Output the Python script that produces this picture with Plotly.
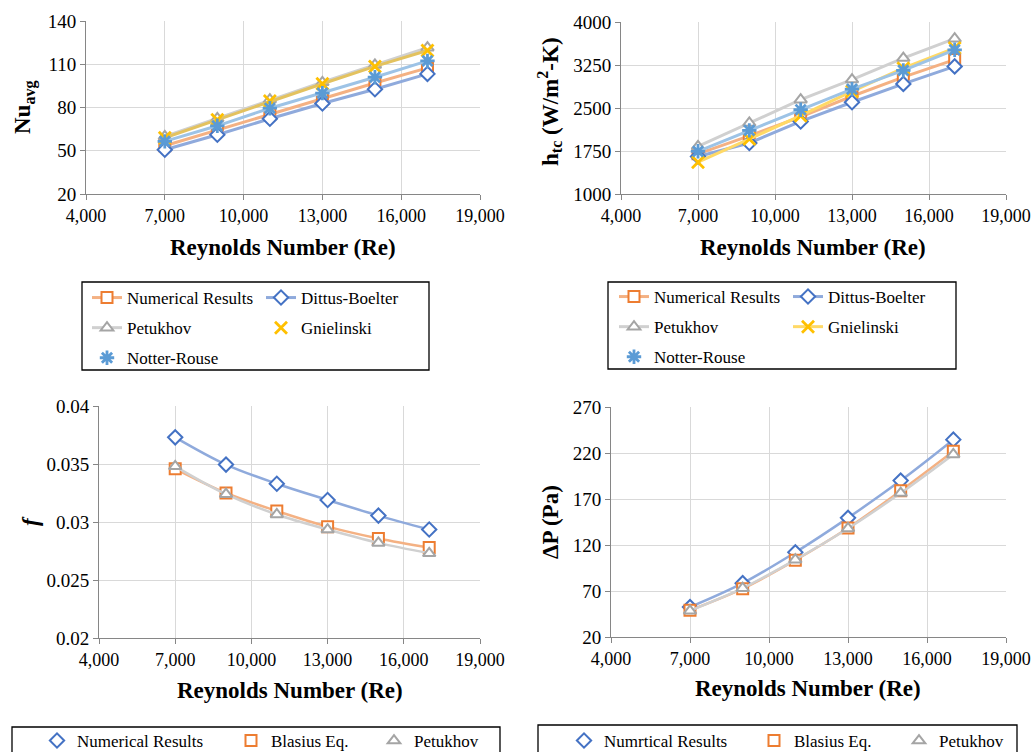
import plotly.graph_objects as go

# Reynolds numbers of the test cases
re = [7000, 9000, 11000, 13000, 15000, 17000]

# Average Nusselt number
nu_numerical = [53.5, 64.5, 75.5, 86.0, 97.0, 107.5]
nu_dittus = [50.7, 61.1, 72.2, 82.8, 92.7, 103.3]
nu_petukhov = [60.0, 72.5, 85.5, 97.5, 109.5, 121.5]
nu_gnielinski = [59.0, 71.5, 84.5, 96.5, 108.5, 119.5]
nu_notter = [56.5, 67.3, 79.5, 90.0, 101.0, 112.3]

# Heat transfer coefficient (W/m2-K)
h_numerical = [1700, 2015, 2345, 2705, 3040, 3345]
h_dittus = [1655, 1890, 2265, 2600, 2920, 3225]
h_petukhov = [1830, 2240, 2645, 2995, 3370, 3710]
h_gnielinski = [1555, 1960, 2365, 2790, 3195, 3545]
h_notter = [1745, 2110, 2470, 2830, 3155, 3515]

# Friction factor
f_numerical = [0.0373, 0.03495, 0.0333, 0.0319, 0.03055, 0.02935]
f_blasius = [0.03458, 0.0325, 0.03095, 0.0296, 0.02858, 0.0278]
f_petukhov = [0.0348, 0.0324, 0.03065, 0.02935, 0.0282, 0.0273]

# Pressure drop (Pa)
dp_numerical = [52.5, 78.5, 112.0, 149.5, 190.0, 234.5]
dp_blasius = [49.0, 72.5, 103.5, 138.5, 179.0, 222.0]
dp_petukhov = [48.5, 73.0, 104.0, 138.0, 176.5, 218.5]

# Axis ticks
x_ticks = [4000, 7000, 10000, 13000, 16000, 19000]
x_labels = ["4,000", "7,000", "10,000", "13,000", "16,000", "19,000"]
nu_ticks = [20, 50, 80, 110, 140]
h_ticks = [1000, 1750, 2500, 3250, 4000]
f_ticks = [0.02, 0.025, 0.03, 0.035, 0.04]
f_labels = ["0.02", "0.025", "0.03", "0.035", "0.04"]
dp_ticks = [20, 70, 120, 170, 220, 270]

W, H = 1033, 752
FONT = "Liberation Serif"

ORANGE, ORANGE_L = "#ED7D31", "#F4B183"
BLUE, BLUE_L = "#4472C4", "#8FAADC"
GRAY, GRAY_L = "#A5A5A5", "#D0D0D0"
YELLOW, YELLOW_L = "#FFC000", "#FFD966"
GOLD_L = "#E3C25F"
SKY, SKY_L = "#5B9BD5", "#9DC3E6"


def px(x):
    return x / W


def py(y):
    return 1 - y / H


fig = go.Figure()


def marker(symbol, color, size=11, lw=2):
    if symbol in ("x-thin", "asterisk"):
        return dict(symbol=symbol, size=size + 1, color=color,
                    line=dict(color=color, width=lw + 0.8))
    return dict(symbol=symbol, size=size, color="white",
                line=dict(color=color, width=lw))


def series(name, y, xa, ya, legend, sym, mcol, lcol, lw=3,
           legend_line=True, shape="linear"):
    if legend_line:
        fig.add_trace(go.Scatter(
            x=re, y=y, name=name, mode="lines+markers", xaxis=xa, yaxis=ya,
            line=dict(color=lcol, width=lw, shape=shape),
            marker=marker(sym, mcol), legend=legend, legendgroup=name + legend))
    else:
        fig.add_trace(go.Scatter(
            x=re, y=y, mode="lines", xaxis=xa, yaxis=ya, showlegend=False,
            line=dict(color=lcol, width=lw, shape=shape), hoverinfo="skip"))
        fig.add_trace(go.Scatter(
            x=re, y=y, name=name, mode="markers", xaxis=xa, yaxis=ya,
            marker=marker(sym, mcol), legend=legend, legendgroup=name + legend))


# Nusselt number panel
series("Numerical Results", nu_numerical, "x", "y", "legend", "square", ORANGE, ORANGE_L)
series("Dittus-Boelter", nu_dittus, "x", "y", "legend2", "diamond", BLUE, BLUE_L)
series("Petukhov", nu_petukhov, "x", "y", "legend", "triangle-up", GRAY, GRAY_L)
series("Gnielinski", nu_gnielinski, "x", "y", "legend2", "x-thin", YELLOW, GOLD_L,
       legend_line=False)
series("Notter-Rouse", nu_notter, "x", "y", "legend", "asterisk", SKY, SKY_L,
       legend_line=False)

# Heat transfer coefficient panel
series("Numerical Results", h_numerical, "x2", "y2", "legend3", "square", ORANGE, ORANGE_L)
series("Dittus-Boelter", h_dittus, "x2", "y2", "legend4", "diamond", BLUE, BLUE_L)
series("Petukhov", h_petukhov, "x2", "y2", "legend3", "triangle-up", GRAY, GRAY_L)
series("Gnielinski", h_gnielinski, "x2", "y2", "legend4", "x-thin", YELLOW, YELLOW_L)
series("Notter-Rouse", h_notter, "x2", "y2", "legend3", "asterisk", SKY, SKY_L,
       legend_line=False)

# Friction factor panel
series("Numerical Results", f_numerical, "x3", "y3", "legend5", "diamond", BLUE, BLUE_L,
       lw=2.5, legend_line=False, shape="spline")
series("Blasius Eq.", f_blasius, "x3", "y3", "legend6", "square", ORANGE, ORANGE_L,
       lw=2.5, legend_line=False, shape="spline")
series("Petukhov", f_petukhov, "x3", "y3", "legend7", "triangle-up", GRAY, GRAY_L,
       lw=2.5, legend_line=False, shape="spline")

# Pressure drop panel
series("Numrtical Results", dp_numerical, "x4", "y4", "legend8", "diamond", BLUE, BLUE_L,
       lw=2.5, legend_line=False, shape="spline")
series("Blasius Eq.", dp_blasius, "x4", "y4", "legend9", "square", ORANGE, ORANGE_L,
       lw=2.5, legend_line=False, shape="spline")
series("Petukhov", dp_petukhov, "x4", "y4", "legend10", "triangle-up", GRAY, GRAY_L,
       lw=2.5, legend_line=False, shape="spline")

axis_common = dict(
    showline=True, linecolor="#868686", linewidth=1,
    ticks="outside", ticklen=5, tickcolor="#868686",
    showgrid=True, gridcolor="#D9D9D9", gridwidth=1, zeroline=False,
    automargin=False,
)


def xaxis(dom, anchor):
    return dict(axis_common, domain=dom, anchor=anchor, range=[4000, 19000],
                tickmode="array", tickvals=x_ticks, ticktext=x_labels,
                tickfont=dict(family=FONT, size=18, color="#000"))


def yaxis(dom, anchor, rng, vals, text=None):
    d = dict(axis_common, domain=dom, anchor=anchor, range=rng,
             tickmode="array", tickvals=vals,
             tickfont=dict(family=FONT, size=19, color="#000"))
    if text is not None:
        d["ticktext"] = text
    return d


layout = dict(
    width=W, height=H,
    margin=dict(l=0, r=0, t=0, b=0, autoexpand=False),
    paper_bgcolor="white", plot_bgcolor="white",
    font=dict(family=FONT, size=17, color="#000"),
    xaxis=xaxis([px(86), px(480)], "y"),
    yaxis=yaxis([py(194), py(21)], "x", [20, 140], nu_ticks),
    xaxis2=xaxis([px(621), px(1006)], "y2"),
    yaxis2=yaxis([py(194), py(22)], "x2", [1000, 4000], h_ticks),
    xaxis3=xaxis([px(99), px(480)], "y3"),
    yaxis3=yaxis([py(638), py(406)], "x3", [0.02, 0.04], f_ticks, f_labels),
    xaxis4=xaxis([px(611), px(1006)], "y4"),
    yaxis4=yaxis([py(637), py(407)], "x4", [20, 270], dp_ticks),
    showlegend=True,
)


def legend_at(x, y):
    return dict(x=px(x), y=py(y), xanchor="left", yanchor="top",
                xref="paper", yref="paper", orientation="v",
                bgcolor="rgba(0,0,0,0)", borderwidth=0, tracegroupgap=5,
                font=dict(family=FONT, size=17, color="#000"))


leg_pos = {
    "legend": (87, 280), "legend2": (261, 280),
    "legend3": (614, 279), "legend4": (788, 279),
    "legend5": (37, 723), "legend6": (231, 723), "legend7": (374, 723),
    "legend8": (564, 723), "legend9": (754, 723), "legend10": (899, 723),
}
for k, (lx, ly) in leg_pos.items():
    layout[k] = legend_at(lx, ly)

fig.update_layout(**layout)

# Frames around the legends
for x0, y0, x1, y1 in [(82, 282, 429, 370), (608, 282, 956, 369),
                       (12, 727, 500, 770), (538, 725, 1017, 770)]:
    fig.add_shape(type="rect", xref="paper", yref="paper",
                  x0=px(x0), x1=px(x1), y0=py(y1), y1=py(y0),
                  line=dict(color="#000", width=1.3), fillcolor="rgba(0,0,0,0)")

# Axis titles
titles = [
    ("<b>Reynolds Number (Re)</b>", 283, 247, 0),
    ("<b>Reynolds Number (Re)</b>", 813, 247, 0),
    ("<b>Reynolds Number (Re)</b>", 290, 690, 0),
    ("<b>Reynolds Number (Re)</b>", 808, 688, 0),
    ("<b>Nu<sub>avg</sub></b>", 25, 107, -90),
    ("<b>h<sub>tc</sub> (W/m<sup>2</sup>-K)</b>", 550, 102, -90),
    ("<b><i>f</i></b>", 30, 521, -90),
    ("<b>ΔP (Pa)</b>", 550, 522, -90),
]
for text, x, y, ang in titles:
    fig.add_annotation(text=text, x=px(x), y=py(y), xref="paper", yref="paper",
                       xanchor="center", yanchor="middle", showarrow=False,
                       textangle=ang, font=dict(family=FONT, size=23, color="#000"))

fig.write_html("out.html")
